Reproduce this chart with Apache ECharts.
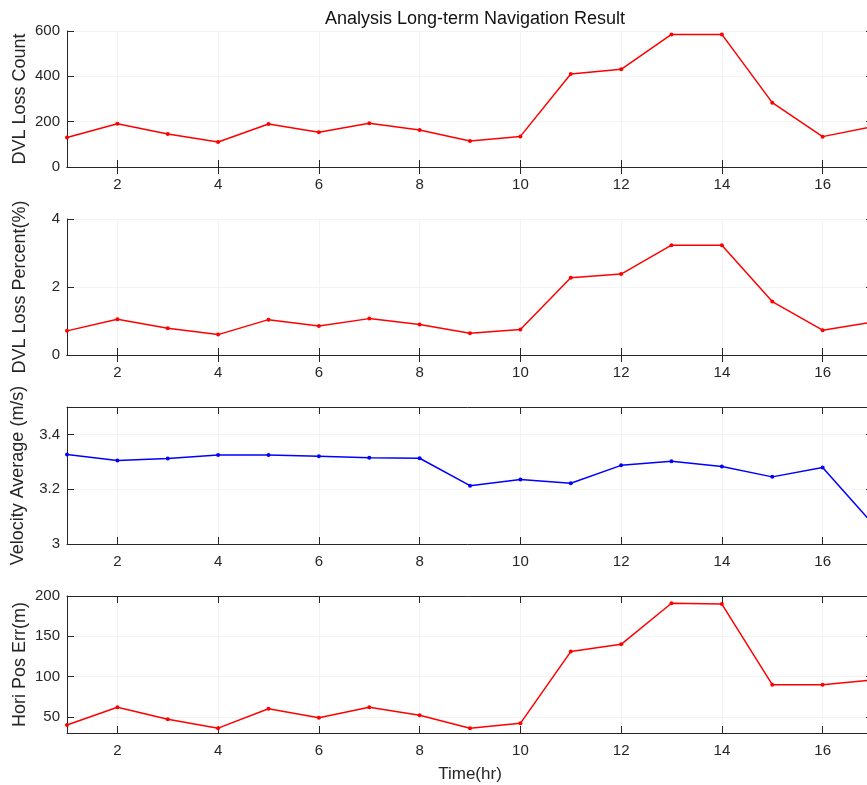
<!DOCTYPE html>
<html>
<head>
<meta charset="utf-8">
<style>html,body{margin:0;padding:0;background:#fff;}#c{width:867px;height:785px;}</style>
<script src="https://cdn.jsdelivr.net/npm/echarts@6/dist/echarts.min.js"></script>
</head>
<body>
<div id="c"></div>
<script>
var hours = [1,2,3,4,5,6,7,8,9,10,11,12,13,14,15,16,17];
var dvlLossCount = [130,191,146,110,190,153,193,163,115,135,410,431,585,585,284,134,178];
var dvlLossPercent = [0.71,1.05,0.79,0.60,1.04,0.85,1.07,0.90,0.64,0.75,2.27,2.38,3.23,3.23,1.57,0.73,0.97];
var velocityAverage = [3.327,3.305,3.312,3.325,3.325,3.320,3.315,3.313,3.213,3.235,3.222,3.287,3.302,3.283,3.245,3.279,3.073];
var horiPosErr = [40,62,47,36,60,49,62,52,36,42,131,140,191,190,90,90,96];

var xTicks = [2,4,6,8,10,12,14,16];
var yTicks1 = [0,200,400,600];
var yTicks2 = [0,2,4];
var yTicks3 = [3,3.2,3.4];
var yTicks4 = [50,100,150,200];

var titleText = 'Analysis Long-term Navigation Result';
var xName = 'Time(hr)';
var yNames = ['DVL Loss Count','DVL Loss Percent(%)','Velocity Average (m/s)','Hori Pos Err(m)'];

var panels = [
  {data: dvlLossCount, min: 0, max: 600, ticks: yTicks1, color: '#ff0000', top: 31, height: 136, gap: 38},
  {data: dvlLossPercent, min: 0, max: 4, ticks: yTicks2, color: '#ff0000', top: 219, height: 136, gap: 38},
  {data: velocityAverage, min: 3, max: 3.5, ticks: yTicks3, color: '#0000ff', top: 407, height: 137, gap: 40},
  {data: horiPosErr, min: 30, max: 200, ticks: yTicks4, color: '#ff0000', top: 596, height: 137, gap: 38}
];

var axisColor = '#262626';
var font = 'Liberation Sans, Arial, Helvetica, sans-serif';
var grids = [], xAxes = [], yAxes = [], series = [];

panels.forEach(function (p, i) {
  grids.push({left: 67, top: p.top, width: 806, height: p.height, outerBoundsMode: 'none', containLabel: false});
  var xBase = {
    type: 'value', gridIndex: i, min: 1, max: 17,
    axisLine: {show: true, lineStyle: {color: axisColor, width: 1}},
    axisTick: {show: true, inside: true, length: 7, customValues: xTicks, lineStyle: {color: axisColor}},
    splitLine: {show: false}
  };
  xAxes.push(Object.assign({}, xBase, {
    position: 'bottom',
    axisLabel: {show: true, customValues: xTicks, margin: 10, color: axisColor, fontSize: 15, fontFamily: font},
    splitLine: {show: true, lineStyle: {color: '#f3f3f3', width: 1}},
    name: i === 3 ? xName : '', nameLocation: 'middle', nameGap: 33, nameMoveOverlap: false,
    nameTextStyle: {color: axisColor, fontSize: 17, fontFamily: font}
  }));
  xAxes.push(Object.assign({}, xBase, {position: 'top', axisLabel: {show: false}}));
  var yBase = {
    type: 'value', gridIndex: i, min: p.min, max: p.max,
    axisLine: {show: true, lineStyle: {color: axisColor, width: 1}},
    axisTick: {show: true, inside: true, length: 7, customValues: p.ticks, lineStyle: {color: axisColor}},
    splitLine: {show: false}
  };
  yAxes.push(Object.assign({}, yBase, {
    position: 'left',
    axisLabel: {show: true, customValues: p.ticks, margin: 7, color: axisColor, fontSize: 15, fontFamily: font},
    splitLine: {show: true, lineStyle: {color: '#f3f3f3', width: 1}},
    name: yNames[i], nameLocation: 'middle', nameGap: p.gap, nameRotate: 90, nameMoveOverlap: false,
    nameTextStyle: {color: axisColor, fontSize: 18, fontFamily: font}
  }));
  yAxes.push(Object.assign({}, yBase, {position: 'right', axisLabel: {show: false}}));
  series.push({
    type: 'line', xAxisIndex: i * 2, yAxisIndex: i * 2,
    data: hours.map(function (h, k) { return [h, p.data[k]]; }),
    symbol: 'circle', symbolSize: 4, showSymbol: true,
    lineStyle: {color: p.color, width: 1.5},
    itemStyle: {color: p.color},
    animation: false, silent: true
  });
});

var chart = echarts.init(document.getElementById('c'), null, {renderer: 'canvas'});
chart.setOption({
  backgroundColor: '#ffffff',
  animation: false,
  title: {text: titleText, left: 470, textAlign: 'center', top: 5,
    textStyle: {color: '#111', fontSize: 18, fontWeight: 'normal', fontFamily: font}},
  grid: grids, xAxis: xAxes, yAxis: yAxes, series: series
});
</script>
</body>
</html>
